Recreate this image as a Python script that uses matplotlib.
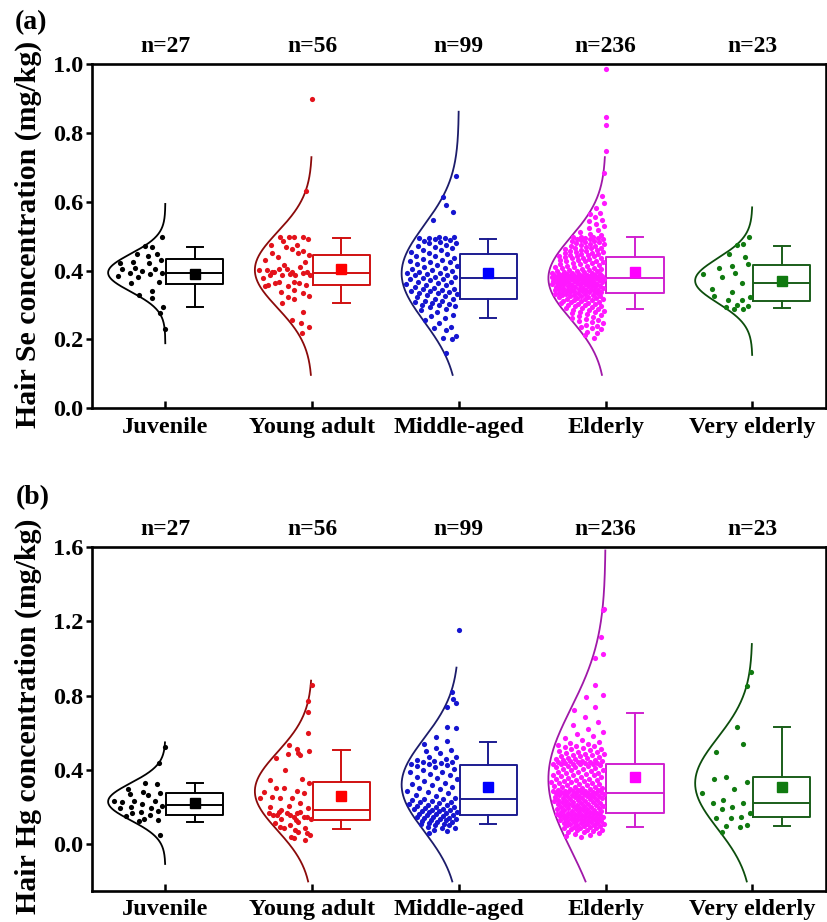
import matplotlib
matplotlib.use("Agg")
import matplotlib.pyplot as plt
import numpy as np

plt.rcParams['font.family'] = ['Liberation Serif', 'DejaVu Serif']
plt.rcParams['font.weight'] = 'bold'

groups = ["Juvenile", "Young adult", "Middle-aged", "Elderly", "Very elderly"]
n_counts = [27, 56, 99, 236, 23]

# ---- panel (a): hair Se (mg/kg) ----
se_juvenile = [0.499, 0.472, 0.470, 0.448, 0.448, 0.444, 0.431, 0.426, 0.423, 0.421,
               0.407, 0.405, 0.404, 0.398, 0.394, 0.392, 0.390, 0.384, 0.382, 0.366,
               0.363, 0.342, 0.329, 0.320, 0.293, 0.278, 0.230]
se_young = [0.899, 0.633, 0.499, 0.497, 0.497, 0.499, 0.492, 0.486, 0.475, 0.475,
            0.470, 0.457, 0.450, 0.462, 0.446, 0.439, 0.450, 0.431, 0.417, 0.426,
            0.397, 0.397, 0.402, 0.404, 0.411, 0.402, 0.404, 0.397, 0.397, 0.388,
            0.380, 0.388, 0.392, 0.388, 0.390, 0.386, 0.366, 0.363, 0.358, 0.355,
            0.358, 0.363, 0.368, 0.354, 0.322, 0.334, 0.307, 0.318, 0.327, 0.339,
            0.281, 0.257, 0.247, 0.237, 0.220, 0.345]
se_middle = [0.676, 0.613, 0.591, 0.570, 0.546,
             0.499, 0.498, 0.496, 0.494, 0.494, 0.491, 0.488, 0.487, 0.483, 0.480,
             0.479, 0.475, 0.471, 0.470, 0.466, 0.461, 0.459, 0.454, 0.450,
             0.447, 0.443, 0.442, 0.437, 0.433, 0.432, 0.428, 0.425, 0.424, 0.419,
             0.417, 0.413, 0.410, 0.409, 0.404, 0.401, 0.400, 0.396, 0.393, 0.393,
             0.390, 0.387, 0.386, 0.383, 0.381,
             0.379, 0.376, 0.375, 0.372, 0.368, 0.367, 0.364, 0.360, 0.358, 0.357,
             0.353, 0.350, 0.348, 0.346, 0.343, 0.342, 0.340, 0.337, 0.336, 0.334,
             0.331, 0.328, 0.326, 0.322, 0.319,
             0.317, 0.313, 0.312, 0.308, 0.306, 0.302, 0.301, 0.299, 0.296, 0.294, 0.290,
             0.286, 0.281, 0.272, 0.267, 0.262, 0.257, 0.247, 0.237, 0.233, 0.228,
             0.210, 0.203, 0.200, 0.160]
se_elderly = [0.985, 0.846, 0.824, 0.749, 0.683, 0.617, 0.596, 0.581, 0.567, 0.565,
              0.556, 0.548, 0.543, 0.537, 0.530, 0.524, 0.518, 0.512, 0.507, 0.503,
              0.499, 0.498, 0.497, 0.496, 0.495, 0.493, 0.492, 0.491, 0.489, 0.487,
              0.486, 0.484, 0.483, 0.481, 0.478, 0.477, 0.476, 0.473, 0.472, 0.470,
              0.467, 0.466, 0.465, 0.462, 0.461, 0.459, 0.457, 0.456, 0.455, 0.453,
              0.451, 0.450, 0.449, 0.447, 0.446, 0.445, 0.444, 0.443, 0.442,
              0.440, 0.438, 0.438, 0.436, 0.433, 0.432, 0.431, 0.428, 0.427, 0.427,
              0.424, 0.422, 0.421, 0.419, 0.418, 0.416, 0.414, 0.414, 0.412, 0.410,
              0.409, 0.407, 0.405, 0.404, 0.403, 0.401, 0.400, 0.398, 0.398, 0.397,
              0.395, 0.394, 0.393, 0.392, 0.391, 0.390, 0.390, 0.389, 0.388, 0.388,
              0.387, 0.386, 0.386, 0.385, 0.385, 0.384, 0.384, 0.383, 0.383, 0.382,
              0.382, 0.382, 0.381, 0.381, 0.381, 0.380, 0.380, 0.380, 0.380,
              0.379, 0.379, 0.378, 0.378, 0.377, 0.376, 0.376, 0.375, 0.374, 0.374,
              0.373, 0.372, 0.371, 0.371, 0.370, 0.369, 0.368, 0.368, 0.367, 0.366,
              0.365, 0.365, 0.364, 0.363, 0.362, 0.361, 0.361, 0.360, 0.359, 0.358,
              0.357, 0.357, 0.356, 0.355, 0.354, 0.353, 0.353, 0.352, 0.351, 0.350,
              0.349, 0.348, 0.348, 0.347, 0.346, 0.345, 0.344, 0.344, 0.343, 0.342,
              0.341, 0.340, 0.340, 0.339, 0.338, 0.337, 0.336, 0.335, 0.334,
              0.333, 0.332, 0.331, 0.330, 0.329, 0.328, 0.327, 0.326, 0.325, 0.324,
              0.323, 0.321, 0.320, 0.319, 0.318, 0.317, 0.315, 0.314, 0.313, 0.311,
              0.310, 0.308, 0.307, 0.305, 0.304, 0.302, 0.301, 0.299, 0.297, 0.296,
              0.294, 0.292, 0.291, 0.289, 0.287, 0.285, 0.283, 0.281, 0.279, 0.276,
              0.274, 0.271, 0.268, 0.266, 0.263, 0.260, 0.257, 0.254, 0.250, 0.247,
              0.243, 0.240, 0.237, 0.233, 0.229, 0.223, 0.218, 0.212, 0.204]
se_very = [0.497, 0.475, 0.477, 0.441, 0.448, 0.415, 0.418, 0.408, 0.394, 0.390,
           0.382, 0.365, 0.346, 0.339, 0.324, 0.315, 0.315, 0.326, 0.300, 0.297,
           0.288, 0.290, 0.293]

# box statistics (q1, median, q3, whiskers, mean) and normal curves (mean, sd, range)
se_q1 = [0.361, 0.358, 0.318, 0.334, 0.313]
se_med = [0.394, 0.394, 0.380, 0.380, 0.364]
se_q3 = [0.433, 0.445, 0.448, 0.441, 0.417]
se_wlo = [0.295, 0.307, 0.263, 0.289, 0.292]
se_whi = [0.468, 0.495, 0.491, 0.497, 0.473]
se_mean = [0.390, 0.404, 0.394, 0.397, 0.371]
se_mu = [0.394, 0.402, 0.392, 0.378, 0.371]
se_sd = [0.055, 0.110, 0.140, 0.120, 0.065]
se_lo = [0.189, 0.097, 0.097, 0.097, 0.155]
se_hi = [0.594, 0.730, 0.862, 0.730, 0.584]

# ---- panel (b): hair Hg (mg/kg) ----
hg_juvenile = [0.525, 0.439, 0.331, 0.324, 0.295, 0.283, 0.278, 0.271, 0.265, 0.233,
               0.235, 0.233, 0.229, 0.215, 0.208, 0.202, 0.193, 0.193, 0.175, 0.181,
               0.166, 0.157, 0.152, 0.136, 0.131, 0.125, 0.050]
hg_young = [0.857, 0.772, 0.713, 0.597, 0.534, 0.510, 0.504, 0.486, 0.480, 0.462,
            0.399, 0.351, 0.345, 0.490,
            0.328, 0.300, 0.289, 0.283, 0.300, 0.274, 0.256, 0.247, 0.247, 0.247,
            0.220, 0.203, 0.208, 0.194,
            0.176, 0.167, 0.167, 0.167, 0.149, 0.158, 0.149, 0.134, 0.182, 0.172,
            0.160, 0.155, 0.145, 0.138,
            0.122, 0.113, 0.104, 0.086, 0.086, 0.068, 0.050, 0.032, 0.023, 0.095,
            0.075, 0.060, 0.040, 0.128]
hg_middle = [1.152, 0.821, 0.780, 0.762, 0.736, 0.629, 0.624, 0.575, 0.557, 0.539,
             0.516, 0.507, 0.504, 0.490, 0.470, 0.468, 0.460, 0.455, 0.450, 0.445,
             0.440, 0.435, 0.432, 0.430, 0.428,
             0.420, 0.413, 0.404, 0.399, 0.391, 0.386, 0.377, 0.371, 0.363, 0.354,
             0.349, 0.341, 0.332, 0.326, 0.319, 0.309, 0.303, 0.296, 0.287, 0.281,
             0.273, 0.263, 0.258, 0.250, 0.246,
             0.243, 0.237, 0.234, 0.228, 0.226, 0.220, 0.218, 0.212, 0.210, 0.205,
             0.203, 0.198, 0.196, 0.192, 0.191, 0.186, 0.184, 0.180, 0.179, 0.174,
             0.172, 0.168, 0.165, 0.162,
             0.159, 0.155, 0.153, 0.148, 0.147, 0.142, 0.141, 0.136, 0.135, 0.130,
             0.128, 0.124, 0.122, 0.118, 0.117, 0.111, 0.109, 0.104, 0.101, 0.095,
             0.090, 0.086, 0.078, 0.071, 0.058]
hg_elderly = [1.265, 1.260, 1.117, 1.023, 1.000, 0.857, 0.803, 0.794, 0.740, 0.722,
              0.686, 0.660, 0.640, 0.620, 0.606, 0.595, 0.580, 0.570, 0.560, 0.552,
              0.545, 0.540, 0.535, 0.530, 0.526, 0.522, 0.518, 0.514, 0.510, 0.506,
              0.502, 0.498, 0.494, 0.490, 0.487, 0.484, 0.481, 0.478, 0.475, 0.472,
              0.469, 0.466, 0.463, 0.460, 0.457, 0.455, 0.452, 0.450, 0.448, 0.446,
              0.444, 0.442, 0.440, 0.438, 0.437, 0.436, 0.434, 0.433, 0.432, 0.431,
              0.429, 0.426, 0.421, 0.419, 0.418, 0.414, 0.409, 0.407, 0.405, 0.400,
              0.398, 0.393, 0.391, 0.388, 0.384, 0.383, 0.379, 0.374, 0.372, 0.370,
              0.366, 0.363, 0.361, 0.357, 0.352, 0.351, 0.348, 0.345, 0.341, 0.339,
              0.336, 0.333, 0.331, 0.327, 0.325, 0.322, 0.318, 0.317, 0.314, 0.310,
              0.308, 0.306, 0.303, 0.300, 0.298, 0.296, 0.294, 0.291, 0.290, 0.288,
              0.287, 0.285, 0.284, 0.283, 0.282, 0.281, 0.280, 0.279, 0.278,
              0.277, 0.276, 0.273, 0.272, 0.270, 0.269, 0.266, 0.266, 0.263, 0.262,
              0.261, 0.258, 0.257, 0.256, 0.253, 0.252, 0.251, 0.248, 0.247, 0.244,
              0.243, 0.240, 0.240, 0.237, 0.234, 0.233, 0.232, 0.229, 0.226, 0.225,
              0.224, 0.221, 0.218, 0.218, 0.215, 0.212, 0.211, 0.210, 0.207, 0.204,
              0.204, 0.202, 0.199, 0.196, 0.196, 0.193, 0.190, 0.190, 0.188, 0.185,
              0.184, 0.182, 0.179, 0.178, 0.176, 0.173, 0.172, 0.170, 0.168,
              0.166, 0.165, 0.163, 0.161, 0.160, 0.158, 0.157, 0.155, 0.154, 0.152,
              0.151, 0.149, 0.148, 0.146, 0.144, 0.143, 0.142, 0.140, 0.137, 0.136,
              0.134, 0.133, 0.131, 0.129, 0.128, 0.126, 0.124, 0.123, 0.121, 0.118,
              0.117, 0.115, 0.113, 0.110, 0.109, 0.107, 0.104, 0.103, 0.101, 0.098,
              0.097, 0.094, 0.092, 0.090, 0.087, 0.085, 0.083, 0.079, 0.077, 0.074,
              0.071, 0.067, 0.064, 0.061, 0.056, 0.051, 0.044, 0.038]
hg_very = [0.928, 0.853, 0.633, 0.539, 0.498, 0.360, 0.337, 0.349, 0.296, 0.278,
           0.238, 0.224, 0.224, 0.203, 0.167, 0.188, 0.149, 0.143, 0.143, 0.104,
           0.100, 0.091, 0.065]

hg_q1 = [0.158, 0.131, 0.160, 0.167, 0.145]
hg_med = [0.210, 0.185, 0.246, 0.278, 0.220]
hg_q3 = [0.274, 0.337, 0.427, 0.430, 0.360]
hg_wlo = [0.120, 0.084, 0.109, 0.095, 0.100]
hg_whi = [0.332, 0.507, 0.550, 0.708, 0.633]
hg_mean = [0.224, 0.260, 0.310, 0.364, 0.310]
hg_mu = [0.229, 0.285, 0.320, 0.350, 0.328]
hg_sd = [0.100, 0.210, 0.250, 0.380, 0.245]
hg_lo = [-0.106, -0.200, -0.200, -0.200, -0.200]
hg_hi = [0.548, 0.880, 0.950, 1.580, 1.077]

dot_colors = ["#000000", "#e3121b", "#1515d0", "#ff18ff", "#107a10"]
curve_colors = ["#000000", "#8b0a0a", "#1c1c6a", "#a018a8", "#0c4d0c"]
box_colors = ["#000000", "#d01010", "#1c1c90", "#d020d0", "#1a5e1a"]
mean_colors = ["#000000", "#ff0000", "#0000ff", "#ff00ff", "#107a10"]

CURVE_W = 0.39


def draw_panel(ax, data, q1, med, q3, wlo, whi, mean, mu, sd, lo, hi):
    for i, vals in enumerate(data):
        pos = i + 1
        # half normal curve drawn to the left of the category position
        yy = np.linspace(lo[i], hi[i], 300)
        g = np.exp(-(yy - mu[i]) ** 2 / (2 * sd[i] ** 2))
        ax.plot(pos - CURVE_W * g, yy, color=curve_colors[i], lw=1.3, zorder=2)

        # points spread inside the curve (golden-ratio spacing, no randomness)
        vals = np.asarray(vals)
        frac = (np.arange(len(vals)) * 0.6180339 + 0.37) % 1.0
        gv = np.exp(-(vals - mu[i]) ** 2 / (2 * sd[i] ** 2))
        xs = pos - (0.03 + 0.93 * frac) * CURVE_W * gv
        ax.scatter(xs, vals, s=14, color=dot_colors[i], lw=0, zorder=3)

        stats = [dict(q1=q1[i], med=med[i], q3=q3[i], whislo=wlo[i],
                      whishi=whi[i], mean=mean[i], fliers=[])]
        c = box_colors[i]
        ax.bxp(stats, positions=[pos + 0.2], widths=0.39, capwidths=0.11,
               showmeans=True, showfliers=False,
               boxprops=dict(color=c, lw=1.4),
               whiskerprops=dict(color=c, lw=1.4),
               capprops=dict(color=c, lw=1.4),
               medianprops=dict(color=c, lw=1.4),
               meanprops=dict(marker='s', markerfacecolor=mean_colors[i],
                              markeredgecolor=mean_colors[i], markersize=7.5))
        ax.annotate("n=%d" % n_counts[i], xy=(pos, 1.0),
                    xycoords=('data', 'axes fraction'), xytext=(0, 12.5),
                    textcoords='offset points', ha='center', va='center',
                    fontsize=17, fontweight='bold')

    ax.set_xlim(0.5, 5.5)
    ax.set_xticks(range(1, 6))
    ax.set_xticklabels(groups, fontsize=17.5, fontweight='bold')
    ax.tick_params(axis='x', direction='in', length=5, width=1.8, pad=6)
    ax.tick_params(axis='y', direction='out', length=4, width=1.8, pad=2,
                   labelsize=17.5)
    for lab in ax.get_yticklabels():
        lab.set_fontweight('bold')
    for sp in ax.spines.values():
        sp.set_linewidth(1.9)


fig = plt.figure(figsize=(8.27, 9.22), dpi=100)
ax_a = fig.add_axes([0.1112, 0.5572, 0.8873, 0.3731])
ax_b = fig.add_axes([0.1112, 0.0339, 0.8873, 0.3731])

draw_panel(ax_a, [se_juvenile, se_young, se_middle, se_elderly, se_very],
           se_q1, se_med, se_q3, se_wlo, se_whi, se_mean,
           se_mu, se_sd, se_lo, se_hi)
ax_a.set_ylim(0.0, 1.0)
ax_a.set_yticks([0.0, 0.2, 0.4, 0.6, 0.8, 1.0])
ax_a.set_yticklabels(["0.0", "0.2", "0.4", "0.6", "0.8", "1.0"], fontweight='bold')

draw_panel(ax_b, [hg_juvenile, hg_young, hg_middle, hg_elderly, hg_very],
           hg_q1, hg_med, hg_q3, hg_wlo, hg_whi, hg_mean,
           hg_mu, hg_sd, hg_lo, hg_hi)
ax_b.set_ylim(-0.25, 1.6)
ax_b.set_yticks([0.0, 0.4, 0.8, 1.2, 1.6])
ax_b.set_yticklabels(["0.0", "0.4", "0.8", "1.2", "1.6"], fontweight='bold')

fig.text(0.034, 0.746, "Hair Se concentration (mg/kg)", rotation=90,
         ha='center', va='center', fontsize=21.5, fontweight='bold')
fig.text(0.034, 0.2235, "Hair Hg concentration (mg/kg)", rotation=90,
         ha='center', va='center', fontsize=21.5, fontweight='bold')
fig.text(0.037, 0.975, "(a)", ha='center', va='center', fontsize=20,
         fontweight='bold')
fig.text(0.039, 0.460, "(b)", ha='center', va='center', fontsize=20,
         fontweight='bold')

fig.savefig("out.png", dpi=100)
